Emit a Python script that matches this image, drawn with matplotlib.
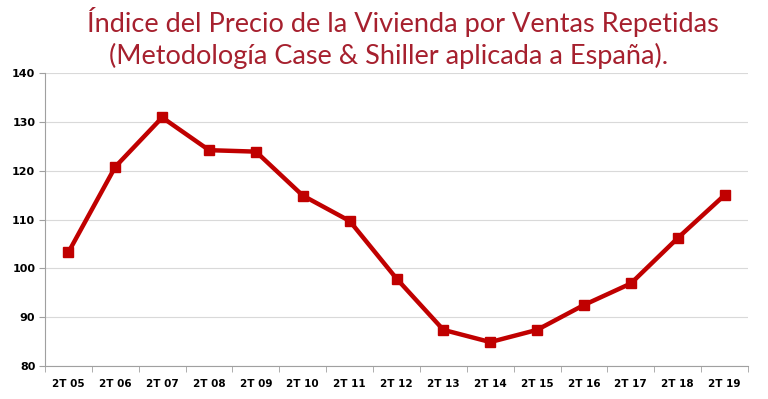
import matplotlib.pyplot as plt
import numpy as np

# data
periods = ['2T 05', '2T 06', '2T 07', '2T 08', '2T 09', '2T 10', '2T 11', '2T 12',
           '2T 13', '2T 14', '2T 15', '2T 16', '2T 17', '2T 18', '2T 19']
index_values = [103.3, 120.8, 130.9, 124.2, 123.9, 114.9, 109.7, 97.9,
                87.4, 84.9, 87.4, 92.5, 96.9, 106.2, 115.0]
y_ticks = [80, 90, 100, 110, 120, 130, 140]

red = '#C00000'
title_color = '#A6202E'

fig = plt.figure(figsize=(7.68, 3.99), dpi=100)
ax = fig.add_axes([0.0586, 0.0827, 0.9154, 0.7343])

x = np.arange(len(periods))
ax.plot(x, index_values, color=red, linewidth=3.2, marker='s', markersize=6.5, zorder=3)

ax.set_xlim(-0.5, len(periods) - 0.5)
ax.set_ylim(80, 140)
ax.set_yticks(y_ticks)
ax.set_xticks(x)
ax.set_xticklabels(periods)
ax.set_xticks(np.arange(len(periods) + 1) - 0.5, minor=True)
ax.tick_params(axis='x', which='major', length=0, pad=9)
ax.tick_params(axis='x', which='minor', length=4, color='#A0A0A0')
ax.tick_params(axis='y', length=4, color='#A0A0A0', pad=3)
for lab in ax.get_xticklabels() + ax.get_yticklabels():
    lab.set_fontweight('bold')
    lab.set_fontsize(7.5)
    lab.set_fontfamily('DejaVu Sans')
for lab in ax.get_yticklabels():
    lab.set_fontsize(8)

ax.grid(axis='y', color='#D9D9D9', linewidth=0.8)
ax.set_axisbelow(True)
for s in ['top', 'right']:
    ax.spines[s].set_visible(False)
ax.spines['left'].set_color('#A0A0A0')
ax.spines['bottom'].set_color('#A0A0A0')

fig.text(0.525, 0.945, 'Índice del Precio de la Vivienda por Ventas Repetidas',
         ha='center', va='center', fontsize=19.5, color=title_color, family='Lato')
fig.text(0.506, 0.86, '(Metodología Case & Shiller aplicada a España).',
         ha='center', va='center', fontsize=19.5, color=title_color, family='Lato')

plt.savefig('out.png', dpi=100)
